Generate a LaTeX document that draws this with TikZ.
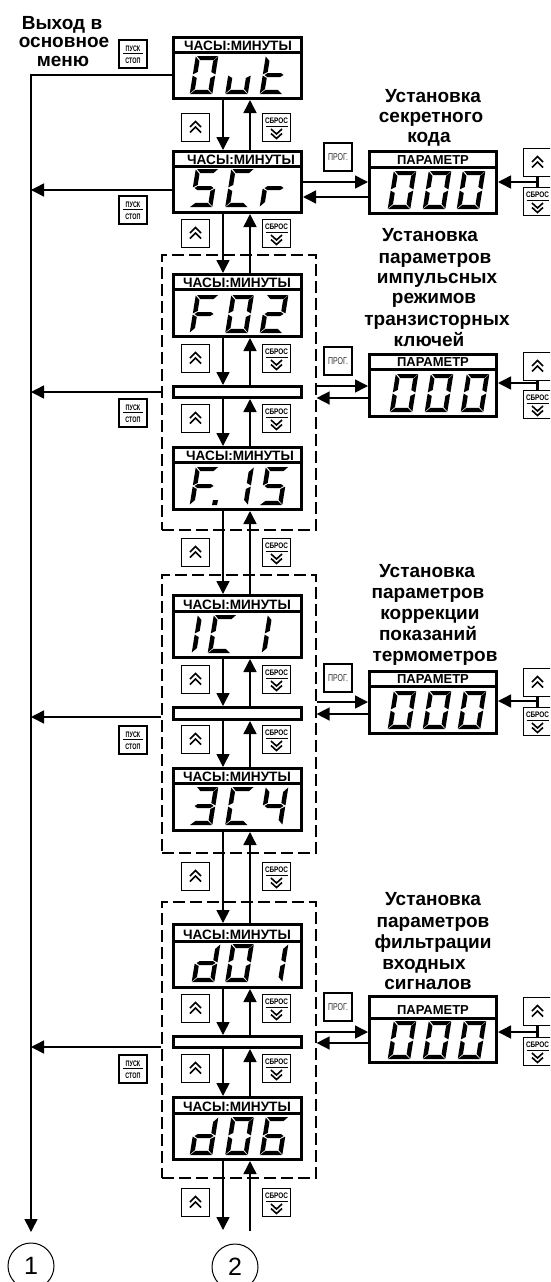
\documentclass[tikz,border=0pt]{standalone}
\usepackage{fontspec}
\setmainfont{Liberation Sans}
\usetikzlibrary{arrows.meta,calc}
\tikzset{
  disp/.style={draw,line width=3pt,rectangle,inner sep=0pt},
  hdr/.style={font=\fontsize{13.6}{14}\selectfont\bfseries,inner sep=0pt,anchor=base},
  phdr/.style={font=\fontsize{13}{13}\selectfont\bfseries,inner sep=0pt,anchor=base},
  ttl/.style={font=\fontsize{19}{19}\selectfont\bfseries,inner sep=0pt,anchor=base},
  btn/.style={draw,line width=1.2pt,rectangle,inner sep=0pt,minimum width=28pt,minimum height=28pt,fill=white},
  arr/.style={line width=1.5pt,-{Triangle[width=13pt,length=13pt]}},
  lin/.style={line width=1.5pt},
  chev/.style={line width=1.6pt,miter limit=4},
  dashbox/.style={draw,line width=1.2pt,dash pattern=on 12pt off 5pt,rectangle,inner sep=0pt},
  circ/.style={draw,circle,line width=1pt,minimum size=46pt,inner sep=0pt,font=\fontsize{25}{25}\selectfont},
  tiny/.style={inner sep=0pt,font=\fontsize{8}{8}\selectfont\bfseries}
}
% segments: v measured upward from digit bottom, height 38
\def\sga{\fill (1,-38)--(22,-38)--(18,-33.8)--(5,-33.8)--cycle;}
\def\sgf{\fill (-0.3,-37.5)--(4.2,-33)--(4.2,-22)--(-0.3,-19.6)--cycle;}
\def\sgb{\fill (22.3,-37.5)--(17.8,-33)--(17.8,-22)--(22.3,-19.6)--cycle;}
\def\sgg{\fill (1.5,-19)--(4.5,-21)--(17.5,-21)--(20.5,-19)--(17.5,-17)--(4.5,-17)--cycle;}
\def\sge{\fill (-0.3,-18.4)--(4.2,-16)--(4.2,-5)--(-0.3,-0.5)--cycle;}
\def\sgc{\fill (22.3,-18.4)--(17.8,-16)--(17.8,-5)--(22.3,-0.5)--cycle;}
\def\sgd{\fill (0,0)--(5,-4.2)--(17,-4.2)--(22,0)--cycle;}
\newcommand\dig[3]{\begin{scope}[shift={(#1,#2+38)},xslant=0.16]
  \foreach \s in {#3}{\csname sg\s\endcsname}\end{scope}}
% name, ytop, ydiv, ybot, label x, label
\newcommand\clock[6]{%
  \node[disp,minimum width=128pt,minimum height={#4-#2-3}] (#1) at (237.5,{(#2+#4)/2}) {};
  \draw[line width=3pt] (#1.west |- 0,#3) -- (#1.east |- 0,#3);
  \node[hdr] (#1t) at (#5,#3-1.5) {#6};}
\newcommand\param[5]{% name, ytop, ydiv, ybot, base offset
  \node[disp,minimum width=127pt,minimum height={#4-#2-3}] (#1) at (433,{(#2+#4)/2}) {};
  \draw[line width=3pt] (#1.west |- 0,#3) -- (#1.east |- 0,#3);
  \node[phdr] (#1t) at (433,#3-#5) {ПАРАМЕТР};}
\newcommand\ubtn[3]{% name x ytop
  \node[btn] (#1) at (#2+14.5,#3+14.5) {};
  \begin{scope}[shift={(#2+14.5,#3+14.5)}]
  \draw[chev] (-5.5,-0.5)--(0,-6)--(5.5,-0.5);
  \draw[chev] (-5.5,5)--(0,-0.5)--(5.5,5);
  \end{scope}}
\newcommand\rbtn[3]{%
  \node[btn] (#1) at (#2+14.5,#3+14.5) {};
  \begin{scope}[shift={(#2+14.5,#3+14.5)}]
  \node[tiny] (#1t) at (0,-6.5) {\scalebox{0.8}[1]{СБРОС}};
  \draw[line width=0.6pt] (-11,-1.5)--(11,-1.5);
  \draw[chev] (-5.5,1.5)--(0,6.5)--(5.5,1.5);
  \draw[chev] (-5.5,6)--(0,11)--(5.5,6);
  \end{scope}}
\newcommand\pbtn[3]{%
  \node[btn] (#1) at (#2+14,#3+14) {};
  \begin{scope}[shift={(#2+14,#3+14)}]
  \node[tiny] (#1a) at (0,-5.5) {\scalebox{0.68}[1]{ПУСК}};
  \draw[line width=0.6pt] (-10,-0.5)--(10,-0.5);
  \node[tiny] (#1b) at (0,6.5) {\scalebox{0.68}[1]{СТОП}};
  \end{scope}}
\newcommand\sbtn[3]{%
  \node[btn,font=\fontsize{10}{10}\selectfont,text=black!80] (#1) at (#2+15,#3+15) {\scalebox{0.7}[1]{ПРОГ.}};}
\begin{document}
\begin{tikzpicture}[x=1pt,y=-1pt]
\useasboundingbox (0,0) rectangle (550,1282);
\clip (0,0) rectangle (550,1282);
\coordinate (dn) at (223,0);
\coordinate (up) at (250,0);

% dashed groups
\node[dashbox,minimum width=154pt,minimum height=275pt] (gF) at (239,392.5) {};
\node[dashbox,minimum width=154pt,minimum height=278pt] (gC) at (239,714) {};
\node[dashbox,minimum width=154pt,minimum height=276pt] (gD) at (239,1040) {};

% clock displays
\clock{out}{36}{52}{100}{238}{ЧАСЫ:МИНУТЫ}
\clock{scr}{150}{166}{214}{241}{ЧАСЫ:МИНУТЫ}
\clock{fa}{273}{289}{338}{237}{ЧАСЫ:МИНУТЫ}
\node[disp,minimum width=128pt,minimum height=11pt] (barF) at (237.5,392) {};
\clock{fb}{446}{462}{511}{240}{ЧАСЫ:МИНУТЫ}
\clock{ca}{594}{611}{659}{237}{ЧАСЫ:МИНУТЫ}
\node[disp,minimum width=128pt,minimum height=12pt] (barC) at (237.5,713.5) {};
\clock{cb}{767}{783}{832}{237}{ЧАСЫ:МИНУТЫ}
\clock{da}{923}{941}{989}{237}{ЧАСЫ:МИНУТЫ}
\node[disp,minimum width=128pt,minimum height=11pt] (barD) at (237.5,1042) {};
\clock{db}{1096}{1113}{1161}{237}{ЧАСЫ:МИНУТЫ}

% parameter displays
\param{p1}{150}{167}{215}{2.5}
\param{p2}{353}{369}{418}{2.5}
\param{p3}{670}{686}{735}{2.5}
\param{p4}{995}{1018}{1064}{3.5}

% digits
\dig{190}{56}{a,b,c,d,e,f}\dig{225.5}{56}{c,d,e}\dig{260}{56}{f,e,g,d}
\dig{190}{169}{a,f,g,c,d}\dig{225.5}{169}{a,f,e,d}\dig{260}{169}{g,e}
\dig{190}{295}{a,f,g,e}\dig{225.5}{295}{a,b,c,d,e,f}\dig{260}{295}{a,b,g,e,d}
\dig{190}{467}{a,f,g,e}\fill (213,500)--(218,500)--(217,505)--(212,505)--cycle;
\dig{225.5}{467}{b,c}\dig{260}{467}{a,f,g,c,d}
\dig{192}{615}{e,f}\dig{208}{615}{a,f,e,d}\dig{262}{615}{e,f}
\dig{190}{787}{a,b,g,c,d}\dig{225.5}{787}{a,f,e,d}\dig{260}{787}{f,g,b,c}
\dig{192}{944}{g,e,d,c,b}\dig{225.5}{944}{a,b,c,d,e,f}\dig{260}{944}{b,c}
\dig{190}{1117}{g,e,d,c,b}\dig{225.5}{1117}{a,b,c,d,e,f}\dig{260}{1117}{a,f,g,e,c,d}
\dig{388}{171}{a,b,c,d,e,f}\dig{423}{171}{a,b,c,d,e,f}\dig{457}{171}{a,b,c,d,e,f}
\dig{390}{374}{a,b,c,d,e,f}\dig{425}{374}{a,b,c,d,e,f}\dig{461}{374}{a,b,c,d,e,f}
\dig{388}{691}{a,b,c,d,e,f}\dig{423}{691}{a,b,c,d,e,f}\dig{458}{691}{a,b,c,d,e,f}
\dig{388}{1021}{a,b,c,d,e,f}\dig{423}{1021}{a,b,c,d,e,f}\dig{458}{1021}{a,b,c,d,e,f}

% vertical arrows
\foreach \a/\b in {out/scr,scr/fa,fa/barF,barF/fb,fb/ca,ca/barC,barC/cb,cb/da,da/barD,barD/db}{
  \draw[arr] (\a.south -| dn) -- (\b.north -| dn);
  \draw[arr] (\b.north -| up) -- (\a.south -| up);
}
\coordinate (endDn) at (223,1230);
\coordinate (endUp) at (250,1231);
\draw[arr] (db.south -| dn) -- (endDn);
\draw[arr] (endUp) -- (db.south -| up);

% exit rail
\coordinate (railT) at (31,75);
\coordinate (railB) at (31,1232);
\coordinate (rS) at (31,190);
\coordinate (rF) at (31,392);
\coordinate (rC) at (31,717);
\coordinate (rD) at (31,1047);
\draw[arr] (out.west |- railT) -- (railT) -- (railB);
\draw[arr] (scr.west |- rS) -- (rS);
\draw[arr] (gF.west |- rF) -- (rF);
\draw[arr] (gC.west |- rC) -- (rC);
\draw[arr] (gD.west |- rD) -- (rD);
\node[circ] (c1) at (31,1266) {1};
\node[circ] (c2) at (235,1267) {2};

% horizontal arrows to the parameter displays
\foreach \src/\p/\ya/\yb/\yc in {scr/p1/182/197/182,gF/p2/386/398/383,gC/p3/702/714/701,gD/p4/1032/1043/1032}{
  \coordinate (ya) at (0,\ya); \coordinate (yb) at (0,\yb); \coordinate (yc) at (537,\yc);
  \draw[arr] (\src.east |- ya) -- (\p.west |- ya);
  \draw[arr] (\p.west |- yb) -- (\src.east |- yb);
  \draw[arr] (yc) -- (\p.east |- yc);
}

% buttons in the main column
\ubtn{u1}{181}{113}\rbtn{r1}{262}{113}
\ubtn{u2}{181}{219}\rbtn{r2}{262}{219}
\ubtn{u3}{181}{344}\rbtn{r3}{262}{344}
\ubtn{u4}{181}{404}\rbtn{r4}{262}{404}
\ubtn{u5}{181}{538}\rbtn{r5}{262}{538}
\ubtn{u6}{181}{665}\rbtn{r6}{262}{665}
\ubtn{u7}{181}{725}\rbtn{r7}{262}{725}
\ubtn{u8}{181}{862}\rbtn{r8}{262}{862}
\ubtn{u9}{181}{994}\rbtn{r9}{262}{994}
\ubtn{u10}{181}{1054}\rbtn{r10}{262}{1054}
\ubtn{u11}{181}{1188}\rbtn{r11}{262}{1188}

\pbtn{s1}{119}{40}\pbtn{s2}{119}{196}\pbtn{s3}{119}{399}\pbtn{s4}{119}{726}\pbtn{s5}{119}{1055}

\sbtn{g1}{323}{142}\sbtn{g2}{323}{346}\sbtn{g3}{323}{663}\sbtn{g4}{323}{992}

% right buttons
\foreach \n/\ya/\yb in {a/148/187,b/352/390,c/668/707,d/997/1037}{
  \ubtn{ru\n}{523}{\ya}\rbtn{rr\n}{523}{\yb}
  \draw[line width=2.5pt] (ru\n.south) -- (rr\n.north);
}

% titles
\newcommand\tl[4]{\node[ttl] (#1) at (#2,#3+6) {#4};}
\tl{t1}{62}{23}{Выход в}\tl{t2}{64}{41}{основное}\tl{t3}{63}{60}{меню}
\tl{t4}{433}{96}{Установка}\tl{t5}{431}{116}{секретного}\tl{t6}{429}{136}{кода}
\tl{t7}{430}{235}{Установка}\tl{t8}{435}{257}{параметров}\tl{t9}{437}{277}{импульсных}
\tl{t10}{434}{297}{режимов}\tl{t11}{437}{319}{транзисторных}\tl{t12}{429}{340}{ключей}
\tl{t13}{427}{571}{Установка}\tl{t14}{428}{592}{параметров}\tl{t15}{430}{613}{коррекции}
\tl{t16}{428}{634}{показаний}\tl{t17}{435}{655}{термометров}
\tl{t18}{433}{899}{Установка}\tl{t19}{433}{921}{параметров}\tl{t20}{433}{942}{фильтрации}
\tl{t21}{424}{963}{входных}\tl{t22}{428}{983}{сигналов}
\end{tikzpicture}
\end{document}
